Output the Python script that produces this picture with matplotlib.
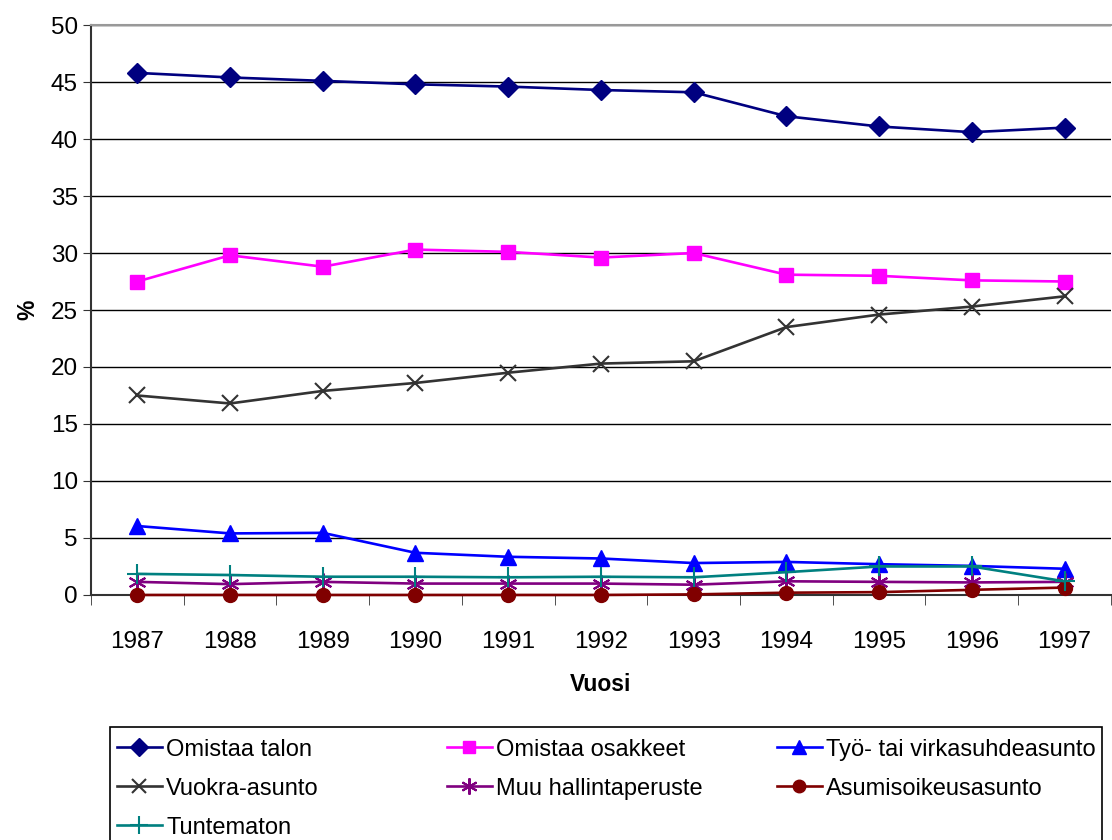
import numpy as np
import matplotlib
matplotlib.use("Agg")
import matplotlib.pyplot as plt
import matplotlib.patches as patch

plt.rcParams['font.family'] = ['Liberation Sans', 'DejaVu Sans']

years = ['1987', '1988', '1989', '1990', '1991', '1992', '1993', '1994', '1995', '1996', '1997']

omistaa_talon = [45.8, 45.4, 45.1, 44.8, 44.6, 44.3, 44.1, 42.0, 41.1, 40.6, 41.0]
omistaa_osakkeet = [27.5, 29.8, 28.8, 30.3, 30.1, 29.6, 30.0, 28.1, 28.0, 27.6, 27.5]
tyo_virka = [6.05, 5.4, 5.45, 3.7, 3.35, 3.2, 2.8, 2.9, 2.7, 2.55, 2.3]
vuokra = [17.5, 16.8, 17.9, 18.6, 19.5, 20.3, 20.5, 23.5, 24.6, 25.3, 26.2]
muu = [1.15, 0.95, 1.15, 1.0, 1.0, 1.0, 0.9, 1.2, 1.15, 1.1, 1.15]
asumisoikeus = [0.0, 0.0, 0.0, 0.0, 0.0, 0.0, 0.05, 0.2, 0.25, 0.45, 0.65]
tuntematon = [1.85, 1.75, 1.6, 1.6, 1.55, 1.6, 1.55, 2.0, 2.5, 2.5, 1.2]

x = np.arange(len(years))

fig = plt.figure(figsize=(11.12, 8.4), dpi=100)
ax = fig.add_axes([0.0818, 0.2917, 0.9172, 0.6785])

star = (6, 2, 0)
series = [
    ("Omistaa talon", omistaa_talon, '#000080', 'D', 10, 1.0),
    ("Omistaa osakkeet", omistaa_osakkeet, '#FF00FF', 's', 10, 1.0),
    ("Työ- tai virkasuhdeasunto", tyo_virka, '#0000FF', '^', 11, 1.0),
    ("Vuokra-asunto", vuokra, '#333333', 'x', 11, 1.5),
    ("Muu hallintaperuste", muu, '#800080', star, 13, 1.5),
    ("Asumisoikeusasunto", asumisoikeus, '#800000', 'o', 10, 1.0),
    ("Tuntematon", tuntematon, '#008080', '+', 15, 1.5),
]

lines = {}
for name, vals, col, mk, ms, mew in series:
    ln, = ax.plot(x, vals, color=col, lw=1.9, marker=mk, markersize=ms,
                  markeredgewidth=mew, markerfacecolor=col, markeredgecolor=col,
                  label=name, clip_on=False, zorder=3)
    lines[name] = ln

ax.set_xlim(-0.5, 10.5)
ax.set_ylim(0, 50)
ax.set_yticks(np.arange(0, 51, 5))
ax.set_xticks(x)
ax.set_xticklabels(years)
ax.set_xticks(np.arange(-0.5, 11, 1), minor=True)
ax.tick_params(axis='x', which='major', length=0, labelsize=17.5, pad=26)
ax.tick_params(axis='x', which='minor', length=7, direction='out', color='#333333')
ax.tick_params(axis='y', length=6, direction='out', labelsize=17.5, color='#333333')

ax.yaxis.grid(True, color='black', lw=1)
ax.set_axisbelow(True)

ax.spines['right'].set_visible(False)
ax.spines['top'].set_color('#999999')
ax.spines['top'].set_linewidth(1.5)
ax.spines['left'].set_color('#333333')
ax.spines['left'].set_linewidth(1.5)
ax.spines['bottom'].set_color('#333333')
ax.spines['bottom'].set_linewidth(1.5)
ax.spines['bottom'].set_zorder(2)

ax.set_xlabel("Vuosi", fontsize=16.5, fontweight='bold', labelpad=14)
ax.set_ylabel("%", fontsize=16.5, fontweight='bold', labelpad=8)

# legend frame
frame = patch.Rectangle((110 / 1112, -0.01), 992 / 1112, 1 - 727 / 840 + 0.01,
                        transform=fig.transFigure, facecolor='white',
                        edgecolor='black', lw=1.2, clip_on=False)
fig.patches.append(frame)

columns = [
    ["Omistaa talon", "Vuokra-asunto", "Tuntematon"],
    ["Omistaa osakkeet", "Muu hallintaperuste"],
    ["Työ- tai virkasuhdeasunto", "Asumisoikeusasunto"],
]
col_x = [112, 442, 772]
for cx, names in zip(col_x, columns):
    leg = fig.legend([lines[n] for n in names], names, loc='upper left',
                     bbox_to_anchor=(cx / 1112, 1 - 734 / 840), frameon=False,
                     fontsize=17, handlelength=1.9, handletextpad=0.2,
                     labelspacing=0.72, borderaxespad=0, borderpad=0.2,
                     markerscale=0.9)

fig.savefig("out.png", dpi=100)
